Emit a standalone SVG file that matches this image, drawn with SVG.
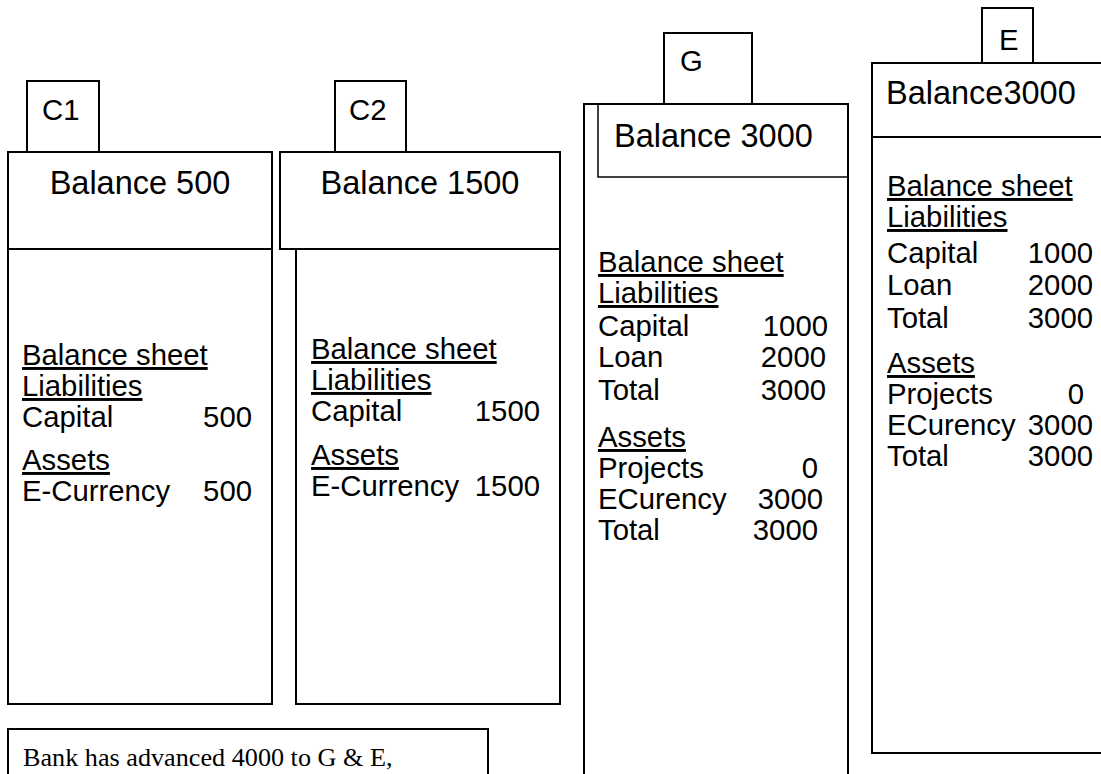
<svg xmlns="http://www.w3.org/2000/svg" width="1101" height="774" viewBox="0 0 1101 774">
<style>
.b{fill:none;stroke:#000;stroke-width:2}
.bt{fill:none;stroke:#000;stroke-width:1.5}
text{font-family:"Liberation Sans",Arial,sans-serif;font-size:29.3px;fill:#000}
.h{font-size:32.5px}
.u{text-decoration:underline}
.n{text-anchor:end}
.m{text-anchor:middle}
.s{font-family:"Liberation Serif","Times New Roman",serif;font-size:26.2px}
</style>
<rect width="1101" height="774" fill="#fff"/>
<g id="c1">
<rect class="b" x="27" y="81" width="72" height="71"/>
<rect class="b" x="8" y="152" width="264" height="97"/>
<rect class="b" x="8" y="249" width="264" height="455"/>
<text x="42" y="120">C1</text>
<text class="h m" x="140" y="194">Balance 500</text>
<text class="u" x="22" y="365">Balance sheet</text>
<text class="u" x="22" y="396">Liabilities</text>
<text x="22" y="427">Capital</text><text class="n" x="252" y="427">500</text>
<text class="u" x="22" y="470">Assets</text>
<text x="22" y="501">E-Currency</text><text class="n" x="252" y="501">500</text>
</g>
<g id="c2">
<rect class="b" x="335" y="81" width="71" height="71"/>
<rect class="b" x="280" y="152" width="280" height="97"/>
<rect class="b" x="296" y="249" width="264" height="455"/>
<text x="349" y="120">C2</text>
<text class="h m" x="420" y="194">Balance 1500</text>
<text class="u" x="311" y="359">Balance sheet</text>
<text class="u" x="311" y="390">Liabilities</text>
<text x="311" y="421">Capital</text><text class="n" x="540" y="421">1500</text>
<text class="u" x="311" y="465">Assets</text>
<text x="311" y="496">E-Currency</text><text class="n" x="540" y="496">1500</text>
</g>
<g id="g">
<rect class="b" x="664" y="33" width="88" height="71"/>
<rect class="b" x="584" y="104" width="264" height="690"/>
<rect class="bt" x="598" y="104" width="250" height="73"/>
<text x="680" y="71">G</text>
<text class="h" x="614" y="147">Balance 3000</text>
<text class="u" x="598" y="272">Balance sheet</text>
<text class="u" x="598" y="303">Liabilities</text>
<text x="598" y="336">Capital</text><text class="n" x="828" y="336">1000</text>
<text x="598" y="367">Loan</text><text class="n" x="826" y="367">2000</text>
<text x="598" y="400">Total</text><text class="n" x="826" y="400">3000</text>
<text class="u" x="598" y="447">Assets</text>
<text x="598" y="478">Projects</text><text class="n" x="818" y="478">0</text>
<text x="598" y="509">ECurency</text><text class="n" x="823" y="509">3000</text>
<text x="598" y="540">Total</text><text class="n" x="818" y="540">3000</text>
</g>
<g id="e">
<rect class="b" x="982" y="8" width="51" height="55"/>
<rect class="b" x="872" y="63" width="260" height="74"/>
<rect class="b" x="872" y="137" width="260" height="616"/>
<text x="999" y="50">E</text>
<text class="h" x="886" y="104">Balance3000</text>
<text class="u" x="887" y="196">Balance sheet</text>
<text class="u" x="887" y="227">Liabilities</text>
<text x="887" y="263">Capital</text><text class="n" x="1093" y="263">1000</text>
<text x="887" y="295">Loan</text><text class="n" x="1093" y="295">2000</text>
<text x="887" y="328">Total</text><text class="n" x="1093" y="328">3000</text>
<text class="u" x="887" y="373">Assets</text>
<text x="887" y="404">Projects</text><text class="n" x="1084" y="404">0</text>
<text x="887" y="435">ECurency</text><text class="n" x="1093" y="435">3000</text>
<text x="887" y="466">Total</text><text class="n" x="1093" y="466">3000</text>
</g>
<g id="note">
<rect class="b" x="8" y="729" width="480" height="70"/>
<text class="s" x="23" y="766">Bank has advanced 4000 to G &amp; E,</text>
</g>
</svg>
